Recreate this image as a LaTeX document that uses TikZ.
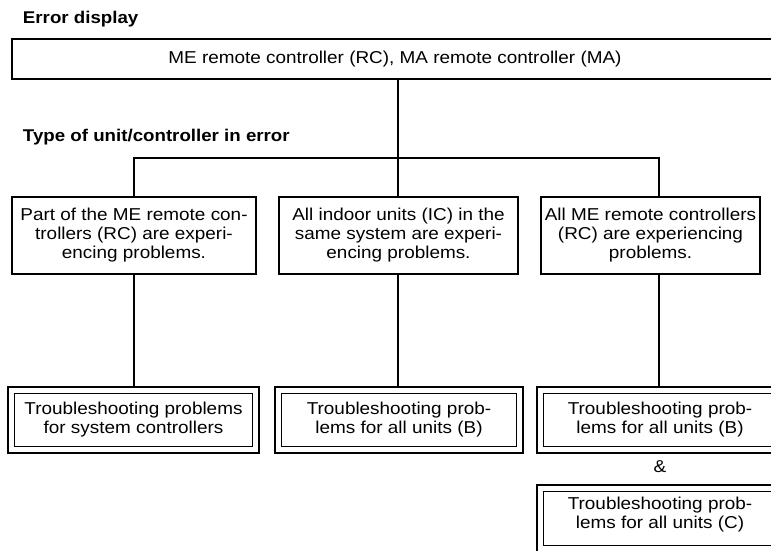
\documentclass[tikz,border=0pt]{standalone}
\usepackage{fontspec}
\setmainfont{Liberation Sans}[FakeStretch=1.1]
\begin{document}
\begin{tikzpicture}[x=1pt,y=-1pt,
  every node/.style={inner sep=0pt, outer sep=0pt, font=\fontsize{17.2}{19}\selectfont},
  conn/.style={line width=1.3pt},
  topbox/.style={draw, line width=1.3pt, minimum height=40pt},
  catbox/.style={draw, line width=1.3pt, align=center, minimum height=77pt},
  resbox/.style={draw, line width=1.3pt, align=center},
  head/.style={anchor=base west, font=\fontsize{17}{19}\selectfont\bfseries}
]
\useasboundingbox (0,0) rectangle (771,550);
\clip (0,0) rectangle (771,550);

\node[head] (h1) at (23,23) {Error display};
\node[head] (h2) at (23,141) {Type of unit/controller in error};

\node[topbox, minimum width=778pt] (top) at (401,59) {};
\node (toptext) at (395,59) {ME remote controller (RC), MA remote controller (MA)};

\node[catbox, minimum width=244pt] (c1) at (134,235.5) {Part of the ME remote con-\\trollers (RC) are experi-\\encing problems.};
\node[catbox, minimum width=239pt] (c2) at (398.5,235.5) {All indoor units (IC) in the\\same system are experi-\\encing problems.};
\node[catbox, minimum width=219pt] (c3) at (650.5,235.5) {All ME remote controllers\\(RC) are experiencing\\problems.};

\node[resbox, minimum width=251pt, minimum height=66pt] (r1) at (133.5,420) {Troubleshooting problems\\for system controllers};
\node[resbox, minimum width=248pt, minimum height=66pt] (r2) at (399,420) {Troubleshooting prob-\\lems for all units (B)};
\node[resbox, minimum width=246pt, minimum height=66pt] (r3) at (660,420) {Troubleshooting prob-\\lems for all units (B)};
\node (amp) at (660,467) {\&};
\node[resbox, minimum width=246pt, minimum height=67pt] (r4) at (660,518.5) {};
\node (r4text) at (660,515) {\begin{tabular}{@{}c@{}}Troubleshooting prob-\\lems for all units (C)\end{tabular}};

\foreach \r in {r1,r2,r3,r4}
  \draw[conn] ([shift={(6.5,6.5)}]\r.north west) rectangle ([shift={(-6.5,-6.5)}]\r.south east);

\coordinate (j) at (398,158);
\coordinate (jl) at (134,158);
\coordinate (jr) at (659,158);

\draw[conn] (top.south -| j) -- (j);
\draw[conn] (c1.north) -- (jl) -- (jr) -- (jr |- c3.north);
\draw[conn] (j) -- (j |- c2.north);
\draw[conn] (c1.south) -- (c1.south |- r1.north);
\draw[conn] (j |- c2.south) -- (j |- r2.north);
\draw[conn] (jr |- c3.south) -- (jr |- r3.north);
\end{tikzpicture}
\end{document}
